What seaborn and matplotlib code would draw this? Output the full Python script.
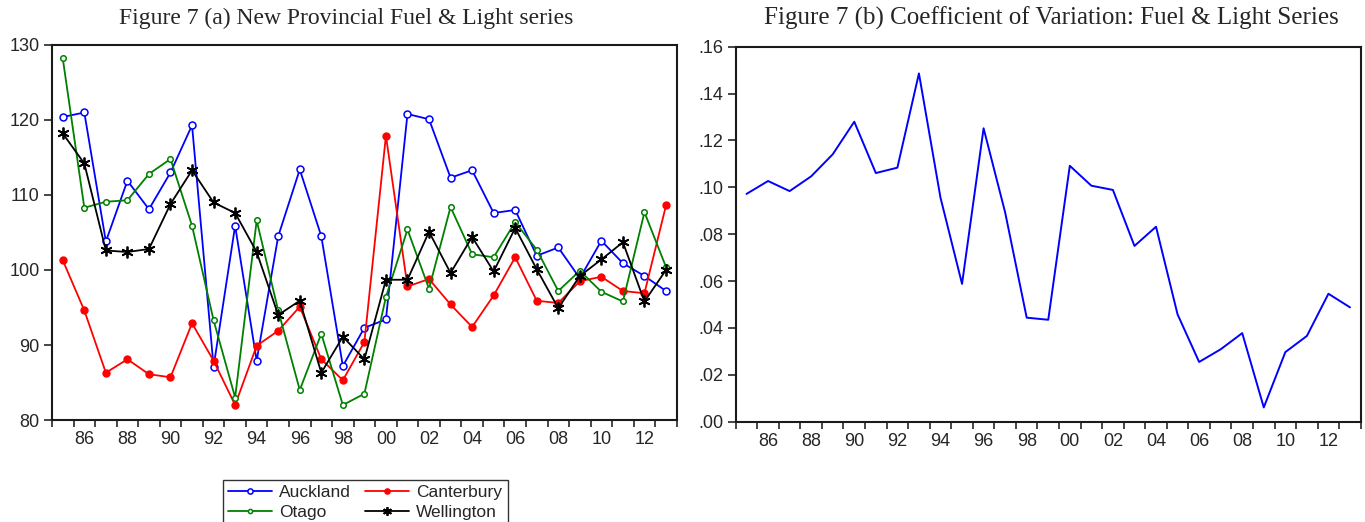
import numpy as np
import pandas as pd
import matplotlib
matplotlib.use("Agg")
import matplotlib.pyplot as plt
import seaborn as sns

years = list(range(1985, 2014))

auckland = [120.4, 121.0, 103.8, 111.9, 108.1, 113.0, 119.3, 87.1, 105.9, 87.9,
            104.5, 113.4, 104.5, 87.2, 92.3, 93.4, 120.8, 120.1, 112.3, 113.3,
            107.6, 108.0, 101.9, 103.0, 98.9, 103.9, 100.9, 99.2, 97.2]
canterbury = [101.3, 94.6, 86.3, 88.1, 86.1, 85.7, 92.9, 87.9, 82.0, 89.9,
              91.9, 95.1, 88.1, 85.3, 90.4, 117.9, 97.8, 98.8, 95.4, 92.4,
              96.6, 101.7, 95.9, 95.6, 98.5, 99.1, 97.2, 96.9, 108.6]
otago = [128.2, 108.3, 109.1, 109.3, 112.8, 114.8, 105.9, 93.3, 83.0, 106.6,
         94.6, 84.0, 91.5, 82.0, 83.5, 96.4, 105.4, 97.5, 108.4, 102.1,
         101.7, 106.4, 102.7, 97.2, 99.9, 97.1, 95.8, 107.7, 100.4]
wellington = [118.2, 114.2, 102.6, 102.4, 102.8, 108.8, 113.3, 109.0, 107.6, 102.4,
              94.0, 95.9, 86.3, 91.1, 88.1, 98.7, 98.7, 105.1, 99.6, 104.4,
              99.8, 105.6, 100.1, 94.9, 99.2, 101.4, 103.7, 95.8, 100.0]

cv = [0.0972, 0.1027, 0.0984, 0.1047, 0.1141, 0.1280, 0.1061, 0.1084, 0.1486, 0.0956,
      0.0588, 0.1252, 0.0893, 0.0444, 0.0435, 0.1092, 0.1007, 0.0989, 0.0750, 0.0832,
      0.0458, 0.0255, 0.0309, 0.0378, 0.0061, 0.0297, 0.0366, 0.0546, 0.0488]

left_yticks = [80, 90, 100, 110, 120, 130]
right_yticks = [0.00, 0.02, 0.04, 0.06, 0.08, 0.10, 0.12, 0.14, 0.16]
even_years = list(range(1986, 2013, 2))

sns.set_style("ticks")
plt.rcParams["font.family"] = ["Liberation Sans", "DejaVu Sans"]

fig = plt.figure(figsize=(13.65, 5.22), dpi=100)
ax1 = fig.add_axes([0.0381, 0.1954, 0.4577, 0.7184])
ax2 = fig.add_axes([0.539, 0.1921, 0.4579, 0.7184])

series = [
    ("Auckland", auckland, dict(color="#0000ff", marker="o", markersize=5,
                                markerfacecolor="white", markeredgecolor="#0000ff",
                                markeredgewidth=1.1)),
    ("Canterbury", canterbury, dict(color="#ff0000", marker="o", markersize=5,
                                    markerfacecolor="#ff0000", markeredgecolor="#ff0000",
                                    markeredgewidth=1.0)),
    ("Otago", otago, dict(color="#008000", marker="o", markersize=4,
                          markerfacecolor="white", markeredgecolor="#008000",
                          markeredgewidth=1.1)),
    ("Wellington", wellington, dict(color="black", marker=(6, 2, 0), markersize=8.5,
                                    markeredgecolor="black", markeredgewidth=1.3)),
]

for name, vals, kw in series:
    df = pd.DataFrame({"year": years, "value": vals})
    sns.lineplot(data=df, x="year", y="value", ax=ax1, label=name,
                 linewidth=1.3, legend=False, **kw)

sns.lineplot(x=years, y=cv, ax=ax2, color="#0000ff", linewidth=1.4)


def style_axis(ax, ylim, yticks, ylabels):
    ax.set_xlim(1984.5, 2013.5)
    ax.set_ylim(*ylim)
    ax.set_xticks(even_years)
    ax.set_xticklabels([f"{y % 100:02d}" for y in even_years])
    ax.set_xticks(np.arange(1984.5, 2014, 1.0), minor=True)
    ax.tick_params(axis="x", which="major", length=0, pad=8, labelsize=13)
    ax.tick_params(axis="x", which="minor", length=5, width=1.2, direction="out")
    ax.set_yticks(yticks)
    ax.set_yticklabels(ylabels)
    ax.tick_params(axis="y", length=6, width=1.2, pad=3, labelsize=13)
    ax.set_xlabel("")
    ax.set_ylabel("")
    for sp in ax.spines.values():
        sp.set_visible(True)
        sp.set_linewidth(1.5)
        sp.set_color("#1a1a1a")


style_axis(ax1, (80, 130), left_yticks, [str(v) for v in left_yticks])
style_axis(ax2, (0, 0.16), right_yticks,
           ["." + f"{v:.2f}".split(".")[1] for v in right_yticks])

fig.text(0.2535, 0.965, "Figure 7 (a) New Provincial Fuel & Light series",
         ha="center", va="center", fontsize=17, family=["Liberation Serif"])
fig.text(0.770, 0.965, "Figure 7 (b) Coefficient of Variation: Fuel & Light Series",
         ha="center", va="center", fontsize=18, family=["Liberation Serif"])

handles, labels = ax1.get_legend_handles_labels()
order = [0, 2, 1, 3]
leg = fig.legend([handles[i] for i in order], [labels[i] for i in order],
                 loc="upper left", bbox_to_anchor=(0.157, 0.097),
                 ncol=2, fontsize=12.5, frameon=True, fancybox=False,
                 handlelength=2.5, columnspacing=0.8, borderpad=0.3,
                 labelspacing=0.25, handletextpad=0.45, markerscale=0.75)
leg.get_frame().set_edgecolor("black")
leg.get_frame().set_linewidth(1.0)

fig.savefig("out.png", dpi=100)
